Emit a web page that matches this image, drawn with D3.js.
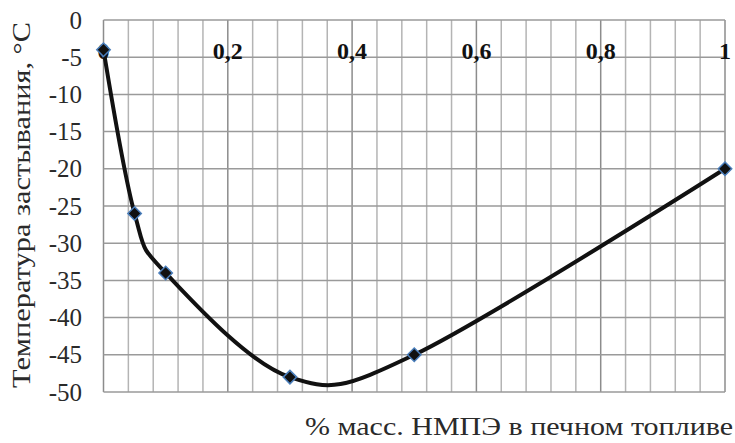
<!DOCTYPE html>
<html><head><meta charset="utf-8">
<script src="https://cdn.jsdelivr.net/npm/d3@7"></script>
<style>body{margin:0;background:#fff}svg{display:block}
svg text{font-family:"Liberation Serif","Times New Roman",serif}</style>
</head><body>
<svg id="c" width="735" height="443"></svg>
<script>
const xValues = [0, 0.05, 0.1, 0.3, 0.5, 1];
const yValues = [-4, -26, -34, -48, -45, -20];
const xTickLabels = ["0", "0,2", "0,4", "0,6", "0,8", "1"];
const xTickValues = [0, 0.2, 0.4, 0.6, 0.8, 1];
const yTickValues = [0, -5, -10, -15, -20, -25, -30, -35, -40, -45, -50];
const yTitle = "Температура застывания, °C";
const xTitle = "% масс. НМПЭ в печном топливе";

const svg = d3.select("#c");
const x = d3.scaleLinear().domain([0, 1]).range([103.5, 725]);
const y = d3.scaleLinear().domain([-50, 0]).range([392, 20]);

// grid
const g = svg.append("g");
const minorX = d3.range(0, 26).map(i => i * 0.04);
g.selectAll("line.vx").data(minorX).join("line")
  .attr("x1", d => x(d)).attr("x2", d => x(d))
  .attr("y1", y(0)).attr("y2", y(-50))
  .attr("stroke", d => (Math.abs(d * 5 - Math.round(d * 5)) < 1e-6) ? "#8c8c8c" : "#b4b4b4")
  .attr("stroke-width", 1.5);
g.selectAll("line.hy").data(yTickValues).join("line")
  .attr("x1", x(0)).attr("x2", x(1))
  .attr("y1", d => y(d)).attr("y2", d => y(d))
  .attr("stroke", "#9a9a9a").attr("stroke-width", 1.5);

// y axis labels
svg.append("g").selectAll("text").data(yTickValues).join("text")
  .attr("x", 82).attr("y", d => y(d) + 8.5)
  .attr("text-anchor", "end")
  .attr("font-size", 25).attr("fill", "#2a2a2a")
  .text(d => d === 0 ? "0" : "-" + Math.abs(d));

// x axis labels (bold, at top)
svg.append("g").selectAll("text").data(xTickValues).join("text")
  .attr("x", d => x(d)).attr("y", 59)
  .attr("text-anchor", "middle")
  .attr("font-size", 24).attr("font-weight", "bold").attr("fill", "#111")
  .text((d, i) => xTickLabels[i]);

// curve
const pts = xValues.map((v, i) => [v, yValues[i]]);
svg.append("path").datum(pts)
  .attr("d", d3.line().x(d => x(d[0])).y(d => y(d[1])).curve(d3.curveCardinal.tension(0)))
  .attr("fill", "none").attr("stroke", "#111").attr("stroke-width", 4);

// markers
svg.append("g").selectAll("path").data(pts).join("path")
  .attr("transform", d => `translate(${x(d[0])},${y(d[1])})`)
  .attr("d", d3.symbol(d3.symbolDiamond2 || d3.symbolDiamond, 115)())
  .attr("fill", "#111").attr("stroke", "#4a7ebb").attr("stroke-width", 1.5);

// titles
svg.append("text")
  .attr("transform", `translate(30,205) rotate(-90)`)
  .attr("text-anchor", "middle")
  .attr("font-size", 26).attr("fill", "#2a2a2a")
  .attr("textLength", 366).attr("lengthAdjust", "spacingAndGlyphs")
  .text(yTitle);
svg.append("text")
  .attr("x", 733).attr("y", 435).attr("text-anchor", "end")
  .attr("font-size", 26).attr("fill", "#2a2a2a")
  .attr("textLength", 428).attr("lengthAdjust", "spacingAndGlyphs")
  .text(xTitle);
</script>
</body></html>
